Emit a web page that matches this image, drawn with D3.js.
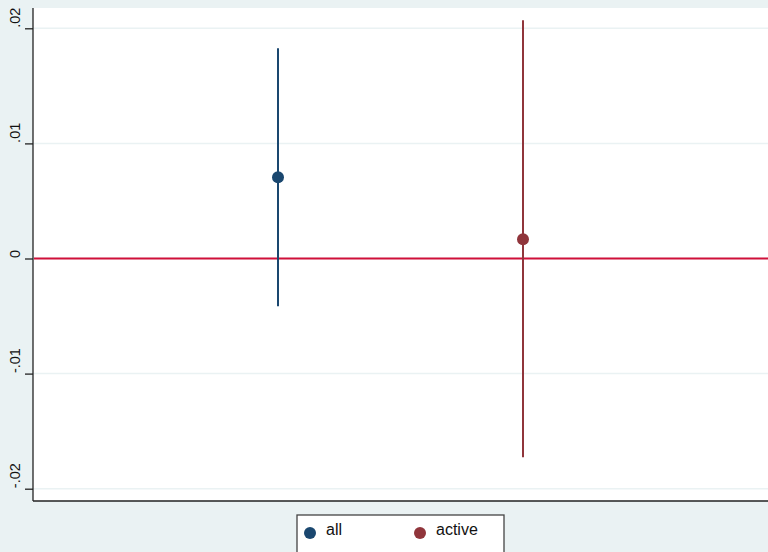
<!DOCTYPE html>
<html>
<head>
<meta charset="utf-8">
<script src="https://cdn.jsdelivr.net/npm/d3@7.9.0/dist/d3.min.js"></script>
<style>
  html, body { margin: 0; padding: 0; background: #eaf2f3; }
  svg { display: block; font-family: "Liberation Sans", Arial, Helvetica, sans-serif; }
</style>
</head>
<body>
<svg id="chart" width="768" height="552"></svg>
<script>
// coefficient plot: point estimates with confidence intervals
const groups = ['all', 'active'];
const estimates = [0.00706, 0.00168];
const ciLow = [-0.00414, -0.01726];
const ciHigh = [0.01827, 0.0207];
const colors = ['#1a476f', '#90353b'];
const yTicks = [-0.02, -0.01, 0, 0.01, 0.02];
const yTickLabels = ['-.02', '-.01', '0', '.01', '.02'];

const W = 768, H = 552;
const plot = { left: 33, top: 8, right: 768, bottom: 501 };

const svg = d3.select('#chart');

// background
svg.append('rect').attr('width', W).attr('height', H).attr('fill', '#eaf2f3');
svg.append('rect')
  .attr('x', plot.left).attr('y', plot.top)
  .attr('width', plot.right - plot.left).attr('height', plot.bottom - plot.top)
  .attr('fill', '#ffffff');

const x = d3.scaleLinear().domain([0, 3]).range([plot.left, plot.right]);
const y = d3.scaleLinear().domain([-0.02, 0.02]).range([488.7, 28.3]);

// grid lines
svg.append('g')
  .selectAll('line')
  .data(yTicks)
  .join('line')
  .attr('x1', plot.left).attr('x2', plot.right)
  .attr('y1', d => y(d)).attr('y2', d => y(d))
  .attr('stroke', '#eaf2f3').attr('stroke-width', 1.5);

// y axis
const yAxis = d3.axisLeft(y)
  .tickValues(yTicks)
  .tickSize(8)
  .tickFormat((d, i) => yTickLabels[i]);

const gy = svg.append('g')
  .attr('transform', `translate(${plot.left},0)`)
  .call(yAxis);
gy.select('.domain').attr('d', `M0,${plot.top}V${plot.bottom}`).attr('stroke', '#222').attr('stroke-width', 1.3);
gy.selectAll('.tick line').attr('stroke', '#222').attr('stroke-width', 1.3);
// rotated labels, starting just above the tick and reading upward
gy.selectAll('.tick text')
  .attr('fill', '#111')
  .attr('font-size', 14.5)
  .attr('text-anchor', 'start')
  .attr('x', 0).attr('y', 0).attr('dy', 0)
  .attr('transform', 'translate(-13,-1) rotate(-90)');

// x axis line (no ticks)
svg.append('line')
  .attr('x1', plot.left).attr('x2', plot.right)
  .attr('y1', plot.bottom).attr('y2', plot.bottom)
  .attr('stroke', '#222').attr('stroke-width', 1.3);

// zero reference line
svg.append('line')
  .attr('x1', plot.left + 1).attr('x2', plot.right)
  .attr('y1', y(0)).attr('y2', y(0))
  .attr('stroke', '#d0103a').attr('stroke-width', 1.8);

// confidence intervals
svg.append('g')
  .selectAll('line')
  .data(groups)
  .join('line')
  .attr('x1', (d, i) => x(i + 1)).attr('x2', (d, i) => x(i + 1))
  .attr('y1', (d, i) => y(ciLow[i])).attr('y2', (d, i) => y(ciHigh[i]))
  .attr('stroke', (d, i) => colors[i]).attr('stroke-width', 2);

// point estimates
svg.append('g')
  .selectAll('circle')
  .data(groups)
  .join('circle')
  .attr('cx', (d, i) => x(i + 1))
  .attr('cy', (d, i) => y(estimates[i]))
  .attr('r', 6)
  .attr('fill', (d, i) => colors[i]);

// legend
const legend = svg.append('g');
legend.append('rect')
  .attr('x', 297).attr('y', 515)
  .attr('width', 207).attr('height', 50)
  .attr('fill', '#ffffff')
  .attr('stroke', '#444').attr('stroke-width', 1.3);

const legendX = [310, 420];
const items = legend.selectAll('g.item')
  .data(groups)
  .join('g')
  .attr('class', 'item')
  .attr('transform', (d, i) => `translate(${legendX[i]},533)`);
items.append('circle').attr('r', 6).attr('fill', (d, i) => colors[i]);
items.append('text')
  .attr('x', 16).attr('y', 2)
  .attr('font-size', 16)
  .attr('fill', '#111')
  .text(d => d);
</script>
</body>
</html>
